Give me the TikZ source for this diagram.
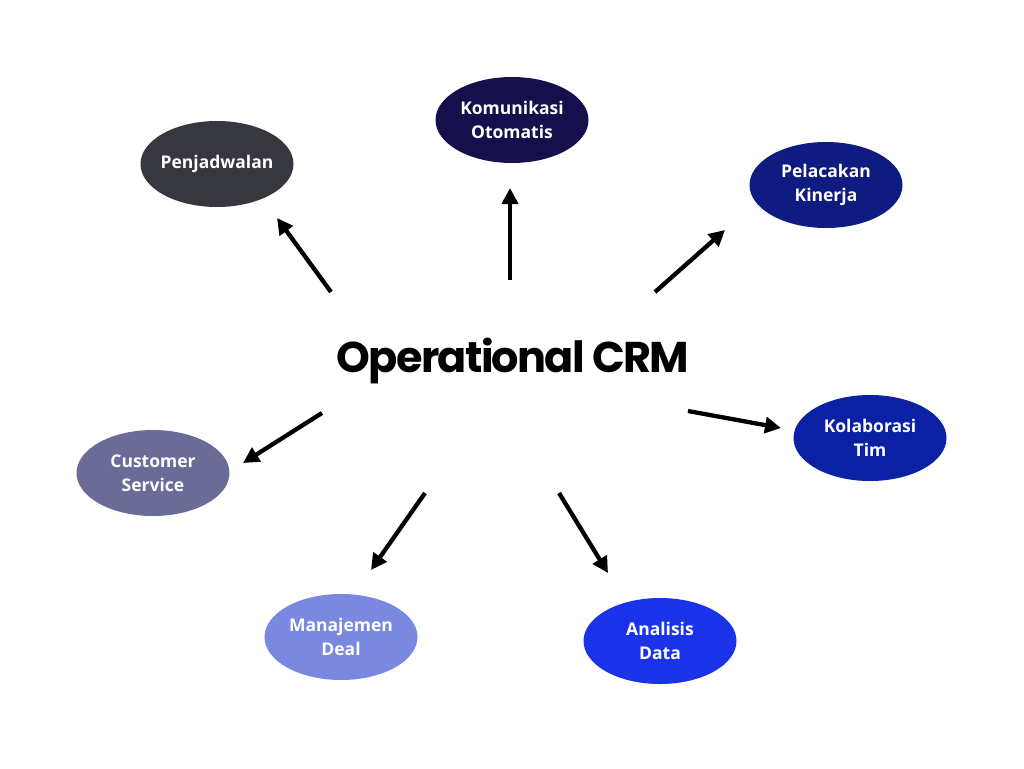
\documentclass[tikz,border=0pt]{standalone}
\usepackage{fontspec}
\setmainfont{Open Sans}
\newfontfamily\titlefont[LetterSpace=-4]{Poppins}
\usetikzlibrary{arrows.meta,shapes.geometric,calc}

\definecolor{komcol}{HTML}{15104B}
\definecolor{pencol}{HTML}{36373F}
\definecolor{pelcol}{HTML}{0F1B80}
\definecolor{kolcol}{HTML}{0A21A3}
\definecolor{cuscol}{HTML}{6A6C97}
\definecolor{mancol}{HTML}{7A88DF}
\definecolor{anacol}{HTML}{1B33E8}

\tikzset{
  bubble/.style={ellipse, minimum width=153pt, minimum height=86pt, inner sep=0pt, inner xsep=-6pt,
    text=white, font=\bfseries\fontsize{17.5}{24}\selectfont, align=center},
  ray/.style={line width=4.3pt, -{Triangle[length=16pt,width=16pt]}}
}

\begin{document}
\begin{tikzpicture}[x=1pt, y=-1pt]

  \useasboundingbox[fill=white] (0,0) rectangle (1024,768);

  \node[font=\titlefont\bfseries\fontsize{43}{46}\selectfont] (crm) at (513,361) {Operational CRM};

  %% outer bubbles
  \node[bubble, fill=pencol] (pen) at (217,164) {Penjadwalan};
  \node[bubble, fill=komcol] (kom) at (512,120) {Komunikasi\\Otomatis};
  \node[bubble, fill=pelcol] (pel) at (826,185) {Pelacakan\\Kinerja};
  \node[bubble, fill=kolcol] (kol) at (870,438) {Kolaborasi\\Tim};
  \node[bubble, fill=cuscol] (cus) at (153,473) {Customer\\Service};
  \node[bubble, fill=mancol] (man) at (341,637) {Manajemen\\Deal};
  \node[bubble, fill=anacol] (ana) at (660,641) {Analisis\\Data};

  %% arrow ends
  \coordinate (s-pen) at ($(crm)+(-182,-69)$);
  \coordinate (t-pen) at ($(pen)+(60,54)$);
  \coordinate (s-kom) at ($(crm)+(-3,-81)$);
  \coordinate (t-kom) at ($(kom)+(-2,68)$);
  \coordinate (s-pel) at ($(crm)+(142,-69)$);
  \coordinate (t-pel) at ($(pel)+(-101,45)$);
  \coordinate (s-kol) at ($(crm)+(175,50)$);
  \coordinate (t-kol) at ($(kol)+(-89,-10)$);
  \coordinate (s-cus) at ($(crm)+(-191,52)$);
  \coordinate (t-cus) at ($(cus)+(90,-10)$);
  \coordinate (s-man) at ($(crm)+(-88,132)$);
  \coordinate (t-man) at ($(man)+(30,-67)$);
  \coordinate (s-ana) at ($(crm)+(46,132)$);
  \coordinate (t-ana) at ($(ana)+(-52,-68)$);

  \draw[ray] (s-pen) -- (t-pen); %% crm->pen
  \draw[ray] (s-kom) -- (t-kom); %% crm->kom
  \draw[ray] (s-pel) -- (t-pel); %% crm->pel
  \draw[ray] (s-kol) -- (t-kol); %% crm->kol
  \draw[ray] (s-cus) -- (t-cus); %% crm->cus
  \draw[ray] (s-man) -- (t-man); %% crm->man
  \draw[ray] (s-ana) -- (t-ana); %% crm->ana

\end{tikzpicture}
\end{document}
